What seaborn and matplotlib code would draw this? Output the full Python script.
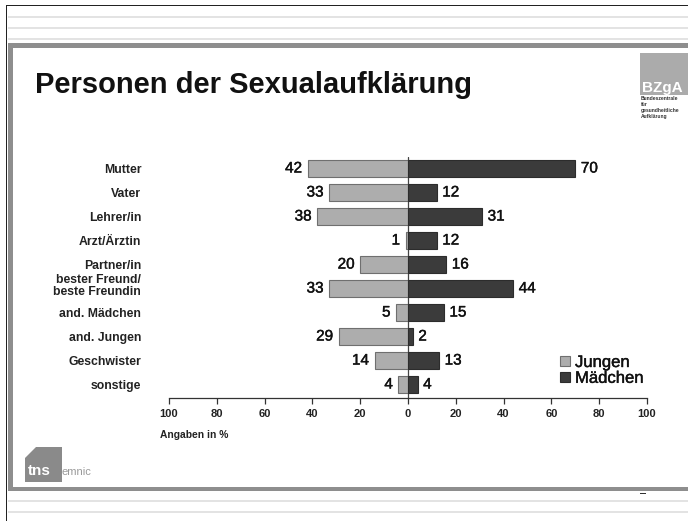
import pandas as pd
import seaborn as sns
from matplotlib import pyplot as plt
from matplotlib import patheffects as pe
from matplotlib.transforms import ScaledTranslation
from matplotlib.patches import Rectangle, Polygon, Patch

# data (Angaben in %)
categories = ["Mutter", "Vater", "Lehrer/in", "Arzt/Ärztin", "Partner/in",
              "bester Freund/\nbeste Freundin", "and. Mädchen", "and. Jungen",
              "Geschwister", "sonstige"]
jungen = [42, 33, 38, 1, 20, 33, 5, 29, 14, 4]
maedchen = [70, 12, 31, 12, 16, 44, 15, 2, 13, 4]
groups = ["Jungen", "Mädchen"]
ticks = [-100, -80, -60, -40, -20, 0, 20, 40, 60, 80, 100]

W, H = 688, 521

sns.set_style("white")
plt.rcParams['font.family'] = ['Liberation Sans', 'DejaVu Sans']

fig = plt.figure(figsize=(W / 100, H / 100), dpi=100)
heavy = [pe.withStroke(linewidth=0.3, foreground='#111111')]


def frect(x0, y0, x1, y1, color):
    # rectangle in pixel coords (top-left origin)
    fig.add_artist(Rectangle((x0 / W, 1 - y1 / H), (x1 - x0) / W, (y1 - y0) / H,
                             transform=fig.transFigure, facecolor=color,
                             edgecolor='none', zorder=0))


# slide frame
frect(7, 5, 688, 6, '#222222')
frect(6, 5, 7, 521, '#222222')
for y in [16, 27, 38, 500, 511]:
    frect(8, y, 688, y + 2, '#e3e3e3')
frect(8, 43, 688, 48, '#8e8e8e')
frect(8, 43, 13, 491, '#8e8e8e')
frect(8, 487, 688, 491, '#8e8e8e')
frect(640, 492.5, 646, 493.5, '#333333')

# title
fig.text(35 / W, 1 - 93 / H, "Personen der Sexualaufklärung", fontsize=21,
         fontweight='bold', color='#111111', va='baseline', ha='left')

# BZgA logo
frect(640, 53, 688, 95, '#ababab')
fig.text(642 / W, 1 - 92 / H, "BZgA", fontsize=11, fontweight='bold',
         color='white', va='baseline', ha='left')
fig.text(641 / W, 1 - 96 / H, "Bundeszentrale\nfür\ngesundheitliche\nAufklärung",
         fontsize=3.6, fontweight='bold', color='#333333', va='top', ha='left',
         linespacing=1.25)

# tns emnic logo
fig.add_artist(Polygon([(25 / W, 1 - 458 / H), (36 / W, 1 - 447 / H), (62 / W, 1 - 447 / H),
                        (62 / W, 1 - 482 / H), (25 / W, 1 - 482 / H)],
                       closed=True, transform=fig.transFigure,
                       facecolor='#8a8a8a', edgecolor='none', zorder=0))
fig.text(28 / W, 1 - 475 / H, "tns", fontsize=11, fontweight='bold', color='white',
         va='baseline', ha='left')
fig.text(61 / W, 1 - 475 / H, "emnic", fontsize=8, color='#9a9a9a',
         va='baseline', ha='left')

# chart
df = pd.DataFrame({
    'Person': categories * 2,
    'Anteil': [-v for v in jungen] + maedchen,
    'Gruppe': [groups[0]] * len(categories) + [groups[1]] * len(categories),
})

ax = fig.add_axes([169 / W, 1 - 398 / H, (647 - 169) / W, (398 - 156.5) / H])
ax.patch.set_alpha(0)
sns.barplot(data=df, y='Person', x='Anteil', hue='Gruppe', order=categories,
            hue_order=groups, palette={'Jungen': '#adadad', 'Mädchen': '#3b3b3b'},
            dodge=False, width=0.71, orient='h', ax=ax, legend=False,
            linewidth=0.8, edgecolor='#6f6f6f')
for p in ax.containers[1]:
    p.set_edgecolor('#2c2c2c')

for cont, vals in zip(ax.containers, [jungen, maedchen]):
    for t in ax.bar_label(cont, labels=[str(v) for v in vals], padding=4,
                          fontsize=11, color='#111111'):
        t.set_path_effects(heavy)

ax.axvline(0, color='#444444', lw=0.9, zorder=0.5)
ax.set_xlim(-100, 100)
ax.set_ylim(9.56, -0.5)
ax.set_xticks(ticks)
ax.set_xticklabels([str(abs(t)) for t in ticks], fontsize=8, fontweight='bold',
                   color='#222222')
ax.tick_params(axis='x', bottom=True, length=4, width=0.9, color='#333333', pad=4,
               direction='out')
ax.tick_params(axis='y', left=False, length=0, pad=20)
for lab in ax.get_yticklabels():
    lab.set_fontweight('bold')
    lab.set_fontsize(8.8)
    lab.set_color('#222222')
    if '\n' in lab.get_text():
        lab.set_linespacing(1.0)
        lab.set_transform(lab.get_transform() + ScaledTranslation(0, 3 / 72, fig.dpi_scale_trans))
ax.set_xlabel('')
ax.set_ylabel('')
for s in ['left', 'top', 'right']:
    ax.spines[s].set_visible(False)
ax.spines['bottom'].set_color('#333333')
ax.spines['bottom'].set_linewidth(0.9)

handles = [Patch(facecolor='#adadad', edgecolor='#6f6f6f', lw=0.8),
           Patch(facecolor='#3b3b3b', edgecolor='#2c2c2c', lw=0.8)]
leg = ax.legend(handles, groups, loc='upper left', bbox_to_anchor=(560 / W, 1 - 355 / H),
                bbox_transform=fig.transFigure, frameon=False, fontsize=12,
                handlelength=0.6, handleheight=0.6, handletextpad=0.3,
                labelspacing=0.05, borderpad=0, borderaxespad=0)
for t in leg.get_texts():
    t.set_color('#111111')
    t.set_path_effects(heavy)

fig.text(160 / W, 1 - 435 / H, "Angaben in %", fontsize=7.4, fontweight='bold',
         color='#222222', va='center', ha='left')

fig.savefig('out.png', dpi=100, facecolor='white')
